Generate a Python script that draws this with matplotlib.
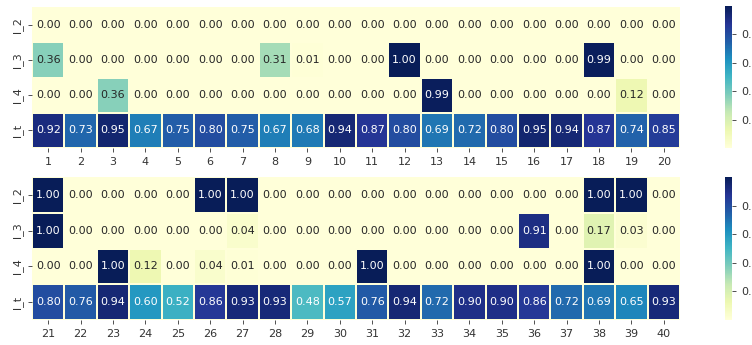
import numpy as np
import matplotlib
matplotlib.use("Agg")
import matplotlib.pyplot as plt
import seaborn as sns

# row labels and column ids for the two halves
rows = ["l_2", "l_3", "l_4", "l_t"]
cols_a = list(range(1, 21))
cols_b = list(range(21, 41))

# first half (samples 1-20)
l2_a = [0.00] * 20
l3_a = [0.36, 0.00, 0.00, 0.00, 0.00, 0.00, 0.00, 0.31, 0.01, 0.00,
        0.00, 1.00, 0.00, 0.00, 0.00, 0.00, 0.00, 0.99, 0.00, 0.00]
l4_a = [0.00, 0.00, 0.36, 0.00, 0.00, 0.00, 0.00, 0.00, 0.00, 0.00,
        0.00, 0.00, 0.99, 0.00, 0.00, 0.00, 0.00, 0.00, 0.12, 0.00]
lt_a = [0.92, 0.73, 0.95, 0.67, 0.75, 0.80, 0.75, 0.67, 0.68, 0.94,
        0.87, 0.80, 0.69, 0.72, 0.80, 0.95, 0.94, 0.87, 0.74, 0.85]

# second half (samples 21-40)
l2_b = [1.00, 0.00, 0.00, 0.00, 0.00, 1.00, 1.00, 0.00, 0.00, 0.00,
        0.00, 0.00, 0.00, 0.00, 0.00, 0.00, 0.00, 1.00, 1.00, 0.00]
l3_b = [1.00, 0.00, 0.00, 0.00, 0.00, 0.00, 0.04, 0.00, 0.00, 0.00,
        0.00, 0.00, 0.00, 0.00, 0.00, 0.91, 0.00, 0.17, 0.03, 0.00]
l4_b = [0.00, 0.00, 1.00, 0.12, 0.00, 0.04, 0.01, 0.00, 0.00, 0.00,
        1.00, 0.00, 0.00, 0.00, 0.00, 0.00, 0.00, 1.00, 0.00, 0.00]
lt_b = [0.80, 0.76, 0.94, 0.60, 0.52, 0.86, 0.93, 0.93, 0.48, 0.57,
        0.76, 0.94, 0.72, 0.90, 0.90, 0.86, 0.72, 0.69, 0.65, 0.93]

W, H = 752, 345
fig = plt.figure(figsize=(W / 100, H / 100), dpi=100)


def box(x0, y0, x1, y1):
    # pixel box (top-left origin) -> figure fraction
    return [x0 / W, 1 - y1 / H, (x1 - x0) / W, (y1 - y0) / H]


panels = [
    (np.array([l2_a, l3_a, l4_a, lt_a]), cols_a, box(32, 7, 680, 148), box(725, 6, 732, 148)),
    (np.array([l2_b, l3_b, l4_b, lt_b]), cols_b, box(32, 177, 680, 320), box(725, 177, 732, 320)),
]

# cell separators in the palest colour of the map, so they only show on dark cells
sep = plt.get_cmap("YlGnBu")(0.0)

for data, cols, hm_pos, cb_pos in panels:
    ax = fig.add_axes(hm_pos)
    cax = fig.add_axes(cb_pos)
    sns.heatmap(data, ax=ax, cbar_ax=cax, cmap="YlGnBu", vmin=0, vmax=1,
                annot=True, fmt=".2f", annot_kws={"size": 8},
                linewidths=0.2, linecolor=sep,
                xticklabels=cols, yticklabels=rows)
    ax.tick_params(axis="both", labelsize=8, length=3, width=0.6,
                   colors="#333333")
    ax.set_yticklabels(rows, rotation=90, va="center")
    ax.set_xticklabels(cols, rotation=0)
    cax.set_yticks([0.2, 0.4, 0.6, 0.8])
    cax.tick_params(labelsize=8, length=3, width=0.6, colors="#333333")

fig.savefig("out.png", dpi=100)
